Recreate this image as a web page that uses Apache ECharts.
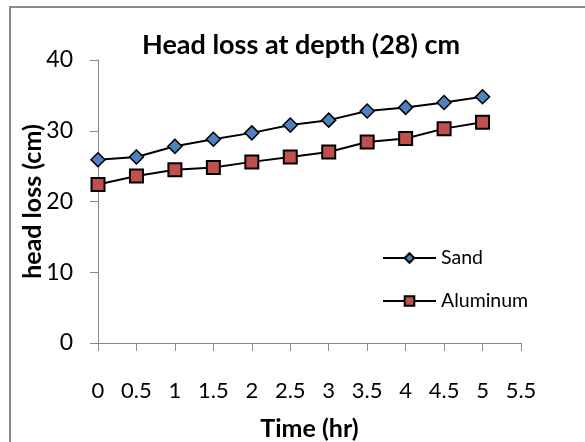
<!DOCTYPE html>
<html>
<head>
<meta charset="utf-8">
<script src="https://cdn.jsdelivr.net/npm/echarts@6/dist/echarts.min.js"></script>
<style>
html,body{margin:0;padding:0;background:#fff;}
#c{width:585px;height:442px;}
</style>
</head>
<body>
<div id="c"></div>
<script>
var timeHr = [0, 0.5, 1, 1.5, 2, 2.5, 3, 3.5, 4, 4.5, 5];
var sand = [25.9, 26.3, 27.8, 28.8, 29.7, 30.8, 31.5, 32.8, 33.3, 34.0, 34.8];
var aluminum = [22.4, 23.6, 24.5, 24.8, 25.6, 26.3, 27.0, 28.4, 28.9, 30.3, 31.2];
var seriesNames = ['Sand', 'Aluminum'];
var titleText = 'Head loss at depth (28) cm';
var xName = 'Time (hr)';
var yName = 'head loss (cm)';

function pairs(xs, ys) { return xs.map(function (x, i) { return [x, ys[i]]; }); }

var FONT = 'Lato';
var chart = echarts.init(document.getElementById('c'), null, { renderer: 'canvas' });
chart.setOption({
  animation: false,
  backgroundColor: '#ffffff',
  graphic: [{
    type: 'rect', silent: true, z: -1,
    shape: { x: 10, y: 7, width: 700, height: 600 },
    style: { fill: null, stroke: '#8a8a8a', lineWidth: 2 }
  }],
  title: {
    text: titleText,
    left: 137, top: 27,
    textStyle: { fontFamily: FONT, fontWeight: 'bold', fontSize: 27, color: '#000' }
  },
  legend: {
    orient: 'vertical',
    left: 377, top: 243,
    itemWidth: 53, itemHeight: 12, itemGap: 23,
    textStyle: { fontFamily: FONT, fontSize: 19.5, color: '#000' },
    data: seriesNames
  },
  grid: { left: 98, top: 60, right: 64, bottom: 99, containLabel: false, outerBoundsMode: 'none' },
  xAxis: {
    type: 'value', min: 0, max: 5.5, interval: 0.5,
    name: xName, nameLocation: 'middle', nameGap: 73, nameMoveOverlap: false,
    nameTextStyle: { fontFamily: FONT, fontWeight: 'bold', fontSize: 25, color: '#000' },
    axisLine: { lineStyle: { color: '#888', width: 1 } },
    axisTick: { show: true, length: 8, lineStyle: { color: '#888' } },
    axisLabel: { margin: 37, fontFamily: FONT, fontSize: 22, color: '#000' },
    splitLine: { show: false }
  },
  yAxis: {
    type: 'value', min: 0, max: 40, interval: 10,
    name: yName, nameLocation: 'middle', nameGap: 53, nameRotate: 90, nameMoveOverlap: false,
    nameTextStyle: { fontFamily: FONT, fontWeight: 'bold', fontSize: 25, color: '#000' },
    axisLine: { show: true, lineStyle: { color: '#888', width: 1 } },
    axisTick: { show: true, length: 8, lineStyle: { color: '#888' } },
    axisLabel: { margin: 25, fontFamily: FONT, fontSize: 23, color: '#000' },
    splitLine: { show: false }
  },
  series: [{
    name: seriesNames[0], type: 'line', data: pairs(timeHr, sand),
    symbol: 'diamond', symbolSize: 14,
    lineStyle: { color: '#000', width: 2 },
    itemStyle: { color: '#4F81BD', borderColor: '#000', borderWidth: 1.5 }
  }, {
    name: seriesNames[1], type: 'line', data: pairs(timeHr, aluminum),
    symbol: 'rect', symbolSize: 13,
    lineStyle: { color: '#000', width: 2 },
    itemStyle: { color: '#C0504D', borderColor: '#000', borderWidth: 2 }
  }]
});
</script>
</body>
</html>
